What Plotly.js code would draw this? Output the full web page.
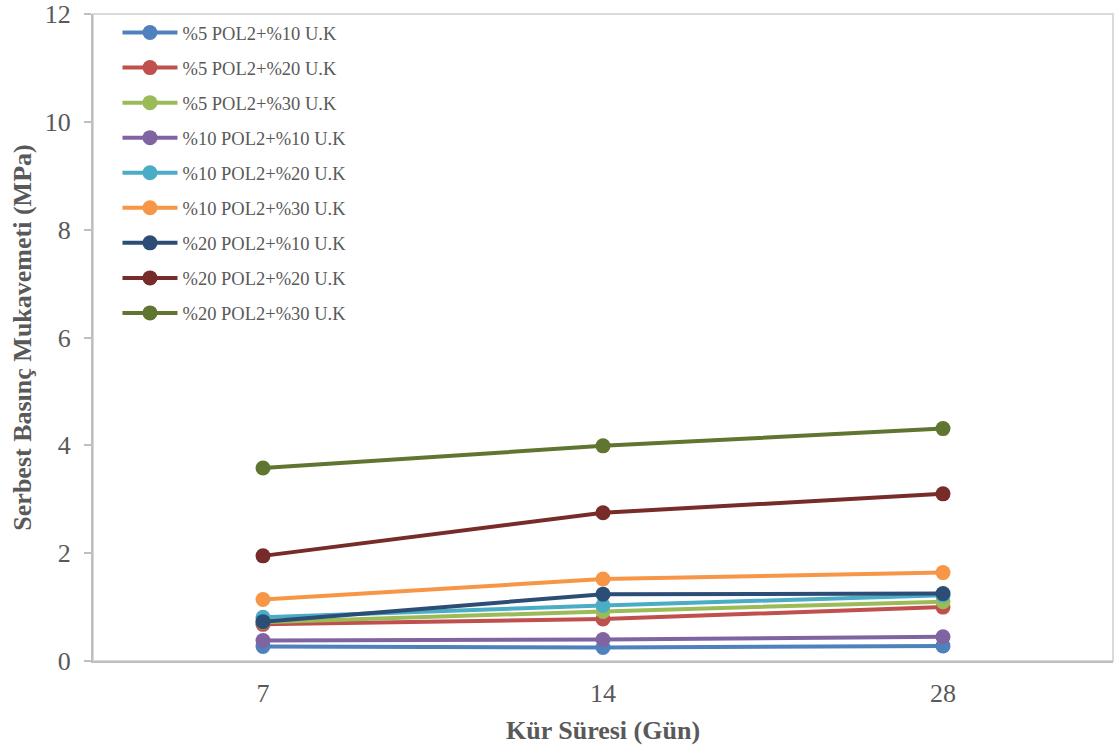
<!DOCTYPE html>
<html>
<head>
<meta charset="utf-8">
<script src="https://cdn.plot.ly/plotly-3.0.1.min.js"></script>
<style>html,body{margin:0;padding:0;background:#fff;}#chart{width:1115px;height:751px;}</style>
</head>
<body>
<div id="chart"></div>
<script>
const categories = ['7', '14', '28'];
const seriesNames = [
  '%5 POL2+%10 U.K', '%5 POL2+%20 U.K', '%5 POL2+%30 U.K',
  '%10 POL2+%10 U.K', '%10 POL2+%20 U.K', '%10 POL2+%30 U.K',
  '%20 POL2+%10 U.K', '%20 POL2+%20 U.K', '%20 POL2+%30 U.K'
];
const s5_10 = [0.27, 0.25, 0.28];
const s5_20 = [0.68, 0.78, 1.00];
const s5_30 = [0.72, 0.92, 1.10];
const s10_10 = [0.38, 0.40, 0.45];
const s10_20 = [0.81, 1.03, 1.22];
const s10_30 = [1.14, 1.52, 1.64];
const s20_10 = [0.73, 1.24, 1.25];
const s20_20 = [1.95, 2.75, 3.10];
const s20_30 = [3.58, 3.99, 4.31];
const seriesValues = [s5_10, s5_20, s5_30, s10_10, s10_20, s10_30, s20_10, s20_20, s20_30];
const colors = ['#4F81BD', '#C0504D', '#9BBB59', '#8064A2', '#4BACC6', '#F79646', '#2C4D75', '#772C2A', '#5F7530'];

const FONT = '"Liberation Serif", "Times New Roman", serif';

const traces = seriesNames.map((name, i) => ({
  type: 'scatter',
  mode: 'lines+markers',
  name: name,
  legendgroup: 'g' + i,
  x: categories,
  y: seriesValues[i],
  line: {color: colors[i], width: 4},
  marker: {color: colors[i], size: 15}
}));

const layout = {
  width: 1115,
  height: 751,
  margin: {l: 93, r: 2, t: 14, b: 90},
  paper_bgcolor: '#ffffff',
  plot_bgcolor: '#ffffff',
  font: {family: FONT, color: '#595959'},
  showlegend: true,
  legend: {
    x: 0.024, y: 1.0, xanchor: 'left', yanchor: 'top',
    bgcolor: 'rgba(0,0,0,0)',
    font: {family: FONT, size: 18.5, color: '#595959'},
    traceorder: 'grouped',
    tracegroupgap: 8,
    itemwidth: 55
  },
  xaxis: {
    type: 'category',
    range: [-0.5, 2.5],
    showgrid: false,
    zeroline: false,
    showline: true,
    linecolor: '#BFBFBF',
    linewidth: 2,
    ticks: '',
    ticklabelstandoff: 8,
    tickfont: {family: FONT, size: 26, color: '#595959'},
    title: {text: '<b>Kür Süresi (Gün)</b>', font: {family: FONT, size: 26, color: '#595959'}, standoff: 14}
  },
  yaxis: {
    range: [0, 12],
    dtick: 2,
    showgrid: false,
    zeroline: false,
    showline: true,
    linecolor: '#BFBFBF',
    linewidth: 2,
    ticks: 'outside',
    ticklen: 7,
    tickwidth: 2,
    tickcolor: '#BFBFBF',
    ticklabelstandoff: 8,
    tickfont: {family: FONT, size: 26, color: '#595959'},
    title: {text: '<b>Serbest Basınç Mukavemeti (MPa)</b>', font: {family: FONT, size: 26, color: '#595959'}, standoff: 6}
  },
  shapes: [{
    type: 'rect', xref: 'paper', yref: 'paper', x0: 0, x1: 1, y0: 0, y1: 1,
    line: {color: '#D9D9D9', width: 2}, layer: 'below'
  }]
};

Plotly.newPlot('chart', traces, layout, {displayModeBar: false, staticPlot: true});
</script>
</body>
</html>
